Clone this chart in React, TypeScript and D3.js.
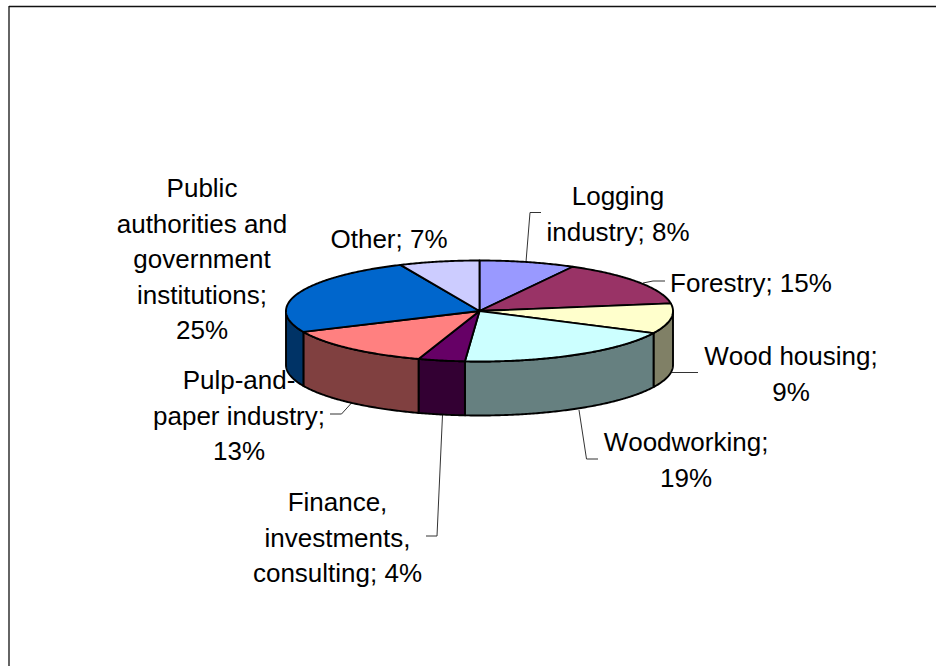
import React from "react";
import * as d3 from "d3";

const categories = ["Logging industry", "Forestry", "Wood housing", "Woodworking", "Finance, investments, consulting", "Pulp-and-paper industry", "Public authorities and government institutions", "Other"];
const shares = [8, 14.6, 9.6, 19, 3.9, 13.1, 25.1, 6.7];
const labelLines = [
  ["Logging", "industry; 8%"],
  ["Forestry; 15%"],
  ["Wood housing;", "9%"],
  ["Woodworking;", "19%"],
  ["Finance,", "investments,", "consulting; 4%"],
  ["Pulp-and-", "paper industry;", "13%"],
  ["Public", "authorities and", "government", "institutions;", "25%"],
  ["Other; 7%"],
];

// styles
const topColors = ["#9999FF", "#993366", "#FFFFCC", "#CCFFFF", "#660066", "#FF8080", "#0066CC", "#CCCCFF"];
const sideColors = ["#666699", "#662244", "#808066", "#668080", "#330033", "#804040", "#003366", "#666680"];

// layout
const W = 936, H = 666;
const cx = 479.5, cy = 311, rx = 193.5, ry = 50.5, depth = 54;
const labelAnchors: [number, number][] = [
  [618, 205], [751, 292], [791, 365], [686, 451], [337.5, 511], [239, 389], [202, 197], [389, 248],
];
const lineStep = 35.5;
const leaders: [number, number][][] = [
  [[526, 262], [530, 212.5], [541, 212.5]],
  [[643, 283], [653, 281], [665, 281]],
  [[672, 372.5], [698, 372.5]],
  [[579, 410], [586.5, 459], [598, 459]],
  [[442.5, 415], [437, 536], [426, 536]],
  [[351.5, 403], [341.5, 414], [330, 414]],
];

const pt = (a: number, dy = 0): [number, number] => [cx + rx * Math.sin(a), cy + dy - ry * Math.cos(a)];
const samples = (a0: number, a1: number) => {
  const n = Math.max(2, Math.ceil((a1 - a0) / 0.01));
  return d3.range(n + 1).map((i) => a0 + ((a1 - a0) * i) / n);
};
const line = d3.line<[number, number]>();

export default function App() {
  const arcs = d3.pie<number>().sort(null).startAngle(0).endAngle(2 * Math.PI)(shares);
  const walls = arcs
    .map((d, i) => ({ i, a0: Math.max(d.startAngle, Math.PI / 2), a1: Math.min(d.endAngle, (3 * Math.PI) / 2) }))
    .filter((d) => d.a1 > d.a0);
  return (
    <svg width={W} height={H} viewBox={`0 0 ${W} ${H}`} style={{ position: "absolute", left: 0, top: 0, background: "#fff" }}>
      <line x1={9} y1={6.5} x2={W} y2={6.5} stroke="#111" strokeWidth={1.3} />
      <line x1={9} y1={6} x2={9} y2={H} stroke="#111" strokeWidth={1.3} />
      <g fontFamily="'Liberation Sans', Arial, sans-serif" fontSize={26} fill="#000" textAnchor="middle" style={{ fontKerning: "none" }}>
        {labelLines.map((lines, i) =>
          lines.map((t, j) => (
            <text key={`${i}-${j}`} x={labelAnchors[i][0]} y={labelAnchors[i][1] + j * lineStep}>{t}</text>
          ))
        )}
      </g>
      <g fill="none" stroke="#333" strokeWidth={1}>
        {leaders.map((l, i) => <path key={i} d={line(l) ?? ""} />)}
      </g>
      <g stroke="#000" strokeWidth={1.9} strokeLinejoin="round">
        {walls.map(({ i, a0, a1 }) => {
          const as = samples(a0, a1);
          const pts = [...as.map((a) => pt(a)), ...as.slice().reverse().map((a) => pt(a, depth))];
          return <path key={i} d={(line(pts) ?? "") + "Z"} fill={sideColors[i]} />;
        })}
        {arcs.map((d, i) => {
          const pts: [number, number][] = [[cx, cy], ...samples(d.startAngle, d.endAngle).map((a) => pt(a))];
          return <path key={categories[i]} d={(line(pts) ?? "") + "Z"} fill={topColors[i]} />;
        })}
      </g>
    </svg>
  );
}
